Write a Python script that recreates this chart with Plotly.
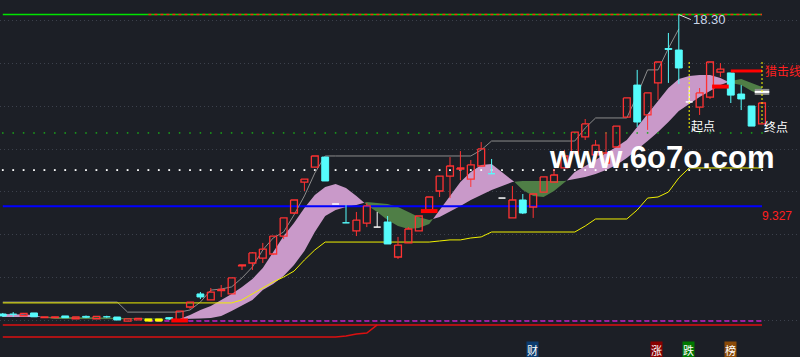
import plotly.graph_objects as go

# ---------------- data (prices) ----------------
opens = [4.28, 4.27, 4.20, 4.33, 4.11, 4.11, 4.19, 4.06, 4.17, 4.06,
         4.15, 4.14, 3.95, 4.01, 4.05, 4.05, 4.11, 3.95, 4.61, 5.22,
         4.94, 5.38, 5.22, 6.53, 6.67, 6.90, 7.09, 7.93, 9.01, 10.46,
         11.16, 11.63, 9.43, 8.55, 8.17, 8.54, 8.35, 8.59, 6.95, 7.61,
         8.17, 9.15, 10.04, 10.74, 11.07, 10.60, 11.21, 10.85, 9.71, 8.78,
         9.62, 9.29, 9.99, 10.46, 11.12, 11.82, 12.57, 11.73, 11.35, 12.10,
         13.50, 15.00, 13.60, 15.10, 16.71, 16.64, 14.21, 13.97, 14.44, 15.61,
         15.57, 14.58, 14.02, 13.18]
highs = [4.33, 4.37, 4.33, 4.33, 4.15, 4.16, 4.19, 4.14, 4.21, 4.17,
         4.20, 4.14, 4.05, 4.08, 4.05, 4.05, 4.14, 4.42, 4.84, 5.31,
         5.50, 5.64, 5.97, 6.58, 7.18, 7.61, 7.93, 8.78, 9.62, 10.60,
         11.68, 11.63, 9.43, 9.38, 9.06, 9.48, 9.06, 8.87, 7.89, 8.35,
         8.87, 9.76, 10.74, 11.63, 11.91, 11.49, 12.33, 11.54, 9.71, 10.27,
         9.90, 9.90, 10.70, 11.07, 11.96, 12.80, 13.41, 12.43, 12.80, 13.08,
         14.40, 15.71, 14.63, 16.08, 17.44, 18.30, 14.91, 14.86, 16.08, 16.03,
         15.57, 15.00, 14.02, 14.16]
lows = [4.14, 4.14, 4.19, 4.14, 4.11, 4.10, 4.11, 4.06, 4.09, 4.06,
        4.09, 4.00, 3.95, 4.01, 3.95, 3.95, 4.00, 3.95, 4.52, 4.98,
        4.94, 5.08, 5.22, 6.34, 6.34, 6.67, 7.04, 7.79, 8.96, 10.04,
        11.16, 10.51, 9.43, 8.54, 7.93, 8.35, 8.35, 7.56, 6.86, 7.61,
        8.17, 9.10, 9.76, 9.71, 10.55, 10.23, 11.21, 10.84, 9.71, 8.78,
        8.96, 8.78, 9.99, 10.46, 11.12, 11.82, 12.43, 11.49, 11.35, 12.10,
        13.50, 13.04, 12.90, 14.30, 15.10, 15.05, 14.21, 13.60, 14.35, 15.38,
        14.16, 13.83, 13.08, 13.18]
closes = [4.19, 4.24, 4.31, 4.15, 4.15, 4.15, 4.11, 4.14, 4.13, 4.17,
          4.13, 4.00, 4.05, 4.08, 3.95, 3.95, 4.05, 4.42, 4.84, 5.08,
          5.31, 5.43, 5.97, 6.58, 7.14, 7.32, 7.93, 8.78, 9.62, 10.60,
          11.68, 10.51, 9.43, 8.54, 8.68, 9.34, 8.35, 7.56, 7.51, 8.26,
          8.87, 9.76, 10.74, 11.21, 11.12, 11.26, 12.01, 10.84, 9.71, 9.62,
          9.01, 9.90, 10.70, 10.79, 11.68, 12.80, 13.18, 12.19, 11.82, 13.08,
          14.40, 13.27, 14.63, 16.08, 16.67, 15.80, 14.21, 14.63, 16.08, 15.75,
          14.53, 14.35, 13.08, 14.16]
yellow_bars = [14, 15]

fast_ma = [4.28, 4.28, 4.26, 4.23, 4.12, 4.05, 4.05, 4.05, 4.05, 4.05,
           4.05, 4.02, 4.02, 4.02, 4.02, 4.02, 4.02, 4.05, 4.23, 4.47,
           4.66, 4.94, 5.22, 5.55, 5.92, 6.43, 7.18, 7.93, 8.54, 9.24,
           9.85, 10.23, 10.37, 10.18, 9.81, 9.38, 9.06, 8.68, 8.40, 8.26,
           8.31, 8.49, 9.15, 9.85, 10.46, 10.93, 11.26, 11.30, 10.93, 10.55,
           10.09, 9.81, 9.76, 10.04, 10.41, 10.93, 11.21, 11.49, 11.82, 12.10,
           12.43, 13.04, 13.69, 14.30, 14.86, 15.28, 15.42, 15.47, 15.47, 15.33,
           15.10, 15.00, 14.72, 14.53]
slow_ma = [4.14, 4.14, 4.14, 4.14, 4.15, 4.12, 4.12, 4.12, 4.12, 4.12,
           4.12, 4.09, 4.09, 4.07, 4.07, 4.07, 4.05, 4.02, 4.05, 4.07,
           4.09, 4.19, 4.42, 4.66, 4.94, 5.40, 5.69, 6.06, 6.58, 7.23,
           8.12, 8.87, 9.15, 9.29, 9.38, 9.52, 9.48, 9.43, 9.29, 9.06,
           8.82, 8.68, 8.82, 9.06, 9.34, 9.62, 9.85, 10.09, 10.27, 10.46,
           10.51, 10.51, 10.51, 10.51, 10.51, 10.60, 10.70, 10.84, 11.02, 11.26,
           11.58, 11.96, 12.38, 12.80, 13.27, 13.79, 14.11, 14.44, 14.72, 15.00,
           15.19, 15.28, 15.10, 14.91]

upper_channel = [4.84, 4.84, 4.84, 4.84, 4.84, 4.84, 4.84, 4.84, 4.84, 4.84,
                 4.84, 4.84, 4.37, 4.37, 4.37, 4.37, 4.37, 4.37, 4.47, 4.84,
                 5.40, 5.45, 5.55, 5.97, 6.48, 7.28, 7.84, 8.12, 8.92, 9.81,
                 10.88, 11.68, 11.68, 11.68, 11.68, 11.68, 11.68, 11.68, 11.68, 11.68,
                 11.68, 11.68, 11.68, 11.68, 11.68, 11.68, 11.96, 12.38, 12.38, 12.38,
                 12.38, 12.38, 12.38, 12.38, 12.38, 12.38, 12.99, 13.46, 13.46, 13.46,
                 13.46, 14.53, 15.71, 15.71, 16.72, 17.63]
lower_channel = [4.80, 4.80, 4.80, 4.80, 4.80, 4.80, 4.80, 4.80, 4.80, 4.80,
                 4.80, 4.80, 4.80, 4.80, 4.80, 4.80, 4.80, 4.80, 4.80, 4.80,
                 4.80, 4.80, 4.80, 4.94, 5.22, 5.50, 5.78, 6.01, 6.29, 6.81,
                 7.28, 7.65, 7.65, 7.65, 7.65, 7.65, 7.65, 7.65, 7.65, 7.65,
                 7.65, 7.65, 7.70, 7.75, 7.75, 7.84, 7.89, 8.12, 8.12, 8.12,
                 8.12, 8.12, 8.12, 8.12, 8.12, 8.12, 8.40, 8.73, 8.73, 8.73,
                 8.73, 9.15, 9.71, 9.76, 9.99, 10.65, 11.12, 11.12, 11.12, 11.12,
                 11.12, 11.12, 11.12, 11.12]
low_red = [3.20, 3.20, 3.20, 3.20, 3.20, 3.20, 3.20, 3.20, 3.20, 3.20,
           3.20, 3.20, 3.20, 3.20, 3.20, 3.20, 3.20, 3.20, 3.20, 3.20,
           3.20, 3.20, 3.20, 3.20, 3.20, 3.20, 3.20, 3.20, 3.20, 3.20,
           3.20, 3.20, 3.20, 3.25, 3.34, 3.39, 3.77]

high_price = 18.30
high_label = "18.30"
blue_level = 9.327
blue_label = "9.327"
green_dot_level = 12.76
white_dot_level = 11.02
magenta_level = 3.95
red_level = 3.77
dash_start = 14

signal_idx = [17, 41, 69]
signal_price = [3.98, 9.10, 14.93]
hunt_level = 15.66
hunt_start = 70
hunt_label = "猎击线"
box_idx = 73
box_price = 14.68
start_idx = 66
end_idx = 73
mark_top = 16.08
start_bottom = 12.90
end_bottom = 13.22
start_label = "起点"
end_label = "终点"
watermark = "www.6o7o.com"
bottom_tags = ["财", "涨", "跌", "榜"]

# ---------------- style ----------------
BG = "#1c1f26"
RED = "#ff3232"
CYAN = "#55fcfc"
WHITE = "#ffffff"
YELLOW = "#ffff00"
PINK = "#c999c9"
GREEN_BAND = "#4f7e46"
HW = 0.33

n = len(opens)
idx = list(range(n))
fig = go.Figure()


def band_segments(x, a, b):
    segs = []
    cur = None
    for k in range(len(x)):
        s = a[k] >= b[k]
        if cur is None:
            cur = [s, [x[k]], [a[k]], [b[k]]]
        elif s == cur[0]:
            cur[1].append(x[k]); cur[2].append(a[k]); cur[3].append(b[k])
        else:
            d0 = a[k - 1] - b[k - 1]
            d1 = a[k] - b[k]
            t = d0 / (d0 - d1)
            xc = x[k - 1] + t * (x[k] - x[k - 1])
            yc = a[k - 1] + t * (a[k] - a[k - 1])
            cur[1].append(xc); cur[2].append(yc); cur[3].append(yc)
            segs.append(cur)
            cur = [s, [xc, x[k]], [yc, a[k]], [yc, b[k]]]
    segs.append(cur)
    out = {True: ([], []), False: ([], [])}
    for s, xs, aa, bb in segs:
        px, py = out[s]
        px.extend(xs + xs[::-1] + [None])
        py.extend(aa + bb[::-1] + [None])
    return out


bands = band_segments(idx, fast_ma, slow_ma)
for key, col in ((True, PINK), (False, GREEN_BAND)):
    fig.add_trace(go.Scatter(x=bands[key][0], y=bands[key][1], mode="lines",
                             fill="toself", fillcolor=col, line=dict(width=0, color=col),
                             hoverinfo="skip", showlegend=False))

# horizontal reference lines
fig.add_trace(go.Scatter(x=[0, n - 1], y=[high_price, high_price], mode="lines",
                         line=dict(color="#00e400", width=1.5), hoverinfo="skip"))
fig.add_trace(go.Scatter(x=[dash_start, n - 1], y=[high_price, high_price], mode="lines",
                         line=dict(color="#ff1a1a", width=1.5, dash="3px,3px"), hoverinfo="skip"))
fig.add_trace(go.Scatter(x=[0, n - 1], y=[blue_level, blue_level], mode="lines",
                         line=dict(color="#0000ff", width=2), hoverinfo="skip"))
fig.add_trace(go.Scatter(x=idx, y=[green_dot_level] * n, mode="markers",
                         marker=dict(color="#1aa81a", size=1.5, symbol="square", line=dict(width=0)),
                         hoverinfo="skip"))
fig.add_trace(go.Scatter(x=idx, y=[white_dot_level] * n, mode="markers",
                         marker=dict(color="#ffffff", size=1.8, symbol="square", line=dict(width=0)),
                         hoverinfo="skip"))
fig.add_trace(go.Scatter(x=[dash_start, n - 1], y=[magenta_level, magenta_level], mode="lines",
                         line=dict(color="#c81ec8", width=1.5, dash="5px,3px"), hoverinfo="skip"))
fig.add_trace(go.Scatter(x=[0, n - 1], y=[red_level, red_level], mode="lines",
                         line=dict(color="#dc1010", width=1.5), hoverinfo="skip"))
fig.add_trace(go.Scatter(x=idx[:len(low_red)], y=low_red, mode="lines",
                         line=dict(color="#dc1010", width=1.5), hoverinfo="skip"))

# channel lines
fig.add_trace(go.Scatter(x=idx[:len(upper_channel)], y=upper_channel, mode="lines",
                         line=dict(color="#8c8c8c", width=1), hoverinfo="skip"))
fig.add_trace(go.Scatter(x=idx, y=lower_channel, mode="lines",
                         line=dict(color="#f0f000", width=1), hoverinfo="skip"))

# candles
groups = {"red": ([], [], [], []), "cyan": ([], [], [], []),
          "white": ([], [], [], []), "yellow": ([], [], [], [])}
for i in idx:
    o, h, l, c = opens[i], highs[i], lows[i], closes[i]
    top, bot = max(o, c), min(o, c)
    if i in yellow_bars:
        g = "yellow"
    elif c > o:
        g = "red"
    elif c < o:
        g = "cyan"
    else:
        g = "white"
    bx, by, wx, wy = groups[g]
    bx.extend([i - HW, i + HW, i + HW, i - HW, i - HW, None])
    by.extend([top, top, bot, bot, top, None])
    if h > top:
        wx.extend([i, i, None]); wy.extend([h, top, None])
    if l < bot:
        wx.extend([i, i, None]); wy.extend([bot, l, None])

colors = {"red": RED, "cyan": CYAN, "white": WHITE, "yellow": YELLOW}
for g, (bx, by, wx, wy) in groups.items():
    col = colors[g]
    fig.add_trace(go.Scatter(x=wx, y=wy, mode="lines", line=dict(color=col, width=1),
                             hoverinfo="skip"))
    if g == "red":
        fig.add_trace(go.Scatter(x=bx, y=by, mode="lines", line=dict(color=col, width=1.3),
                                 hoverinfo="skip"))
    else:
        fig.add_trace(go.Scatter(x=bx, y=by, mode="lines", fill="toself", fillcolor=col,
                                 line=dict(color=col, width=1), hoverinfo="skip"))

# signal bars
sx, sy = [], []
for i, p in zip(signal_idx, signal_price):
    sx.extend([i - 0.8, i + 0.8, None]); sy.extend([p, p, None])
fig.add_trace(go.Scatter(x=sx, y=sy, mode="lines", line=dict(color="#ff0000", width=4),
                         hoverinfo="skip"))
fig.add_trace(go.Scatter(x=[hunt_start, n - 1], y=[hunt_level, hunt_level], mode="lines",
                         line=dict(color="#ff0000", width=3), hoverinfo="skip"))
fig.add_trace(go.Scatter(x=[box_idx - 0.7, box_idx + 0.7], y=[box_price, box_price], mode="lines",
                         line=dict(color="#8e8e8e", width=6), hoverinfo="skip"))
fig.add_trace(go.Scatter(x=[box_idx - 0.7, box_idx + 0.7], y=[box_price, box_price], mode="lines",
                         line=dict(color="#ffffff", width=2), hoverinfo="skip"))
fig.add_trace(go.Scatter(x=[start_idx, start_idx, None, end_idx, end_idx],
                         y=[mark_top, start_bottom, None, mark_top, end_bottom], mode="lines",
                         line=dict(color="#ffff00", width=1, dash="2px,2px"), hoverinfo="skip"))

ann = []
ann.append(dict(x=highs.index(high_price), y=high_price, xref="x", yref="y",
                text=high_label, showarrow=True, arrowhead=0, arrowwidth=1, arrowcolor="#e0e0e0",
                ax=12, ay=5, xanchor="left", yanchor="middle",
                font=dict(family="Liberation Sans, Arial", size=13, color="#c8d4e6")))
ann.append(dict(x=n - 1 + 0.1, y=hunt_level, xref="x", yref="y", text=hunt_label,
                showarrow=False, xanchor="left", yanchor="middle",
                font=dict(family="Noto Sans CJK SC", size=12, color="#ff2020")))
ann.append(dict(x=n - 1 - 0.2, y=blue_level, xref="x", yref="y", text=blue_label,
                showarrow=False, xanchor="left", yanchor="top", yshift=-1,
                font=dict(family="Liberation Sans, Arial", size=12, color="#ff2020")))
ann.append(dict(x=start_idx, y=start_bottom, xref="x", yref="y", text=start_label,
                showarrow=False, xanchor="left", yanchor="middle", yshift=4,
                font=dict(family="Noto Sans CJK SC", size=12, color="#ffffff")))
ann.append(dict(x=end_idx, y=end_bottom, xref="x", yref="y", text=end_label,
                showarrow=False, xanchor="left", yanchor="middle", yshift=-3,
                font=dict(family="Noto Sans CJK SC", size=12, color="#ffffff")))
ann.append(dict(x=63.4, y=11.63, xref="x", yref="y", text="<b>" + watermark + "</b>",
                showarrow=False, xanchor="center", yanchor="middle",
                font=dict(family="Liberation Sans, Arial", size=31, color="#ffffff")))
tag_x = [0.665, 0.821, 0.860, 0.9125]
tag_bg = ["#0c3c70", "#880000", "#007800", "#8a4a08"]
for t, x, bgc in zip(bottom_tags, tag_x, tag_bg):
    ann.append(dict(x=x, y=0.021, xref="paper", yref="paper", text=t, showarrow=False,
                    xanchor="center", yanchor="middle", bgcolor=bgc, borderpad=0,
                    font=dict(family="Noto Sans CJK SC", size=11, color="#ffffff")))

fig.update_layout(
    width=800, height=357, margin=dict(l=0, r=0, t=0, b=0),
    paper_bgcolor=BG, plot_bgcolor=BG, showlegend=False,
    annotations=ann,
    xaxis=dict(range=[-0.2692, 76.654], visible=False, fixedrange=True),
    yaxis=dict(range=[2.268, 18.983], tickvals=[4, 6, 8, 10, 12, 14, 16, 18],
               showticklabels=False, showgrid=True, gridcolor="#3c414c", griddash="1px,3px",
               gridwidth=1, zeroline=False, showline=False, fixedrange=True),
)

fig.write_html("out.html", config={"displayModeBar": False},
               post_script="document.body.style.margin='0';document.body.style.padding='0';"
                           "document.body.style.background='" + BG + "';")
